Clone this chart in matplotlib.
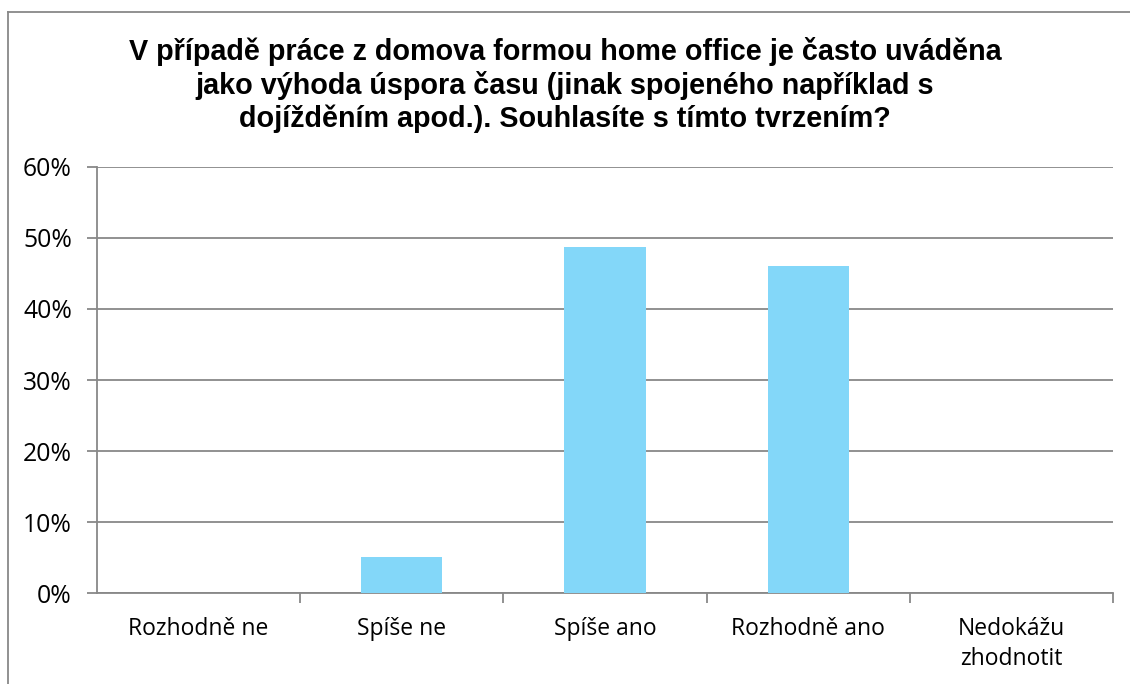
import matplotlib
matplotlib.use("Agg")
import matplotlib.pyplot as plt
from matplotlib.ticker import PercentFormatter, FixedLocator
from matplotlib.lines import Line2D

categories = ["Rozhodně ne", "Spíše ne", "Spíše ano", "Rozhodně ano", "Nedokážu\nzhodnotit"]
values = [0.0, 5.1, 48.7, 46.0, 0.0]
yticks = [0, 10, 20, 30, 40, 50, 60]
title = ("V případě práce z domova formou home office je často uváděna\n"
         "jako výhoda úspora času (jinak spojeného například s\n"
         "dojížděním apod.). Souhlasíte s tímto tvrzením?")

W, H = 1130, 684
fig = plt.figure(figsize=(W / 100, H / 100), dpi=100)
ax = fig.add_axes([97 / W, 1 - 593.3 / H, (1113 - 97) / W, (593.3 - 166.7) / H])

x = list(range(len(categories)))
ax.bar(x, values, width=0.4, color="#83D7F9", zorder=3)
ax.set_xlim(-0.5, len(categories) - 0.5)
ax.set_ylim(0, 60)
ax.set_yticks(yticks)
ax.yaxis.set_major_formatter(PercentFormatter(decimals=0))
ax.grid(axis="y", color="#888888", linewidth=1.3, zorder=0)

for s in ["top", "right"]:
    ax.spines[s].set_visible(False)
ax.spines["left"].set_color("#888888")
ax.spines["bottom"].set_color("#888888")
ax.spines["left"].set_linewidth(1.3)
ax.spines["bottom"].set_linewidth(1.3)

ax.set_xticks(x)
ax.set_xticklabels(categories, fontsize=16.5, family="Open Sans", linespacing=1.32)
ax.tick_params(axis="x", length=0, pad=17)
ax.xaxis.set_minor_locator(FixedLocator([i + 0.5 for i in range(len(categories))]))
ax.tick_params(axis="x", which="minor", length=7, width=1.3, color="#888888")
ax.tick_params(axis="y", length=7, width=1.3, color="#888888", labelsize=17.8, pad=11)
for lab in ax.get_yticklabels():
    lab.set_family("Open Sans")

fig.text(0.5, 1 - 37 / H, title, ha="center", va="top", fontsize=20.7,
         fontweight="bold", family="Liberation Sans", linespacing=1.2)

fig.add_artist(Line2D([8 / W, 8 / W], [0, 1 - 12 / H], transform=fig.transFigure,
                      color="#888888", linewidth=1.3))
fig.add_artist(Line2D([8 / W, 1], [1 - 12 / H, 1 - 12 / H], transform=fig.transFigure,
                      color="#888888", linewidth=1.3))

fig.savefig("out.png", dpi=100)
